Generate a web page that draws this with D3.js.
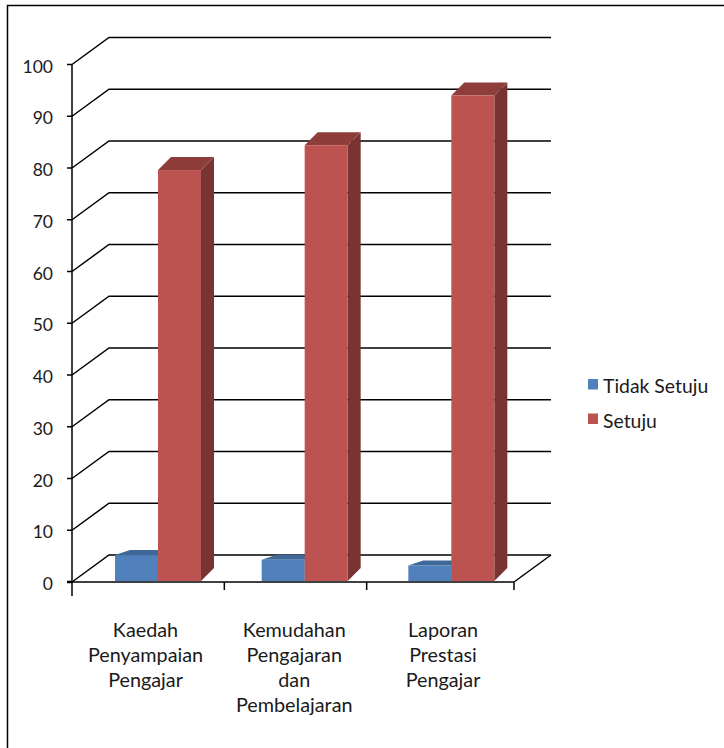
<!DOCTYPE html>
<html><head><meta charset="utf-8">
<script src="https://cdn.jsdelivr.net/npm/d3@7"></script>
<style>html,body{margin:0;padding:0;background:#fff}svg{display:block}text{font-family:Lato,"Open Sans",sans-serif;fill:#1a1a1a}</style>
</head><body><svg id="c" width="724" height="748"></svg>
<script>
const categories = [["Kaedah","Penyampaian","Pengajar"],["Kemudahan","Pengajaran","dan","Pembelajaran"],["Laporan","Prestasi","Pengajar"]];
const seriesNames = ["Tidak Setuju","Setuju"];
const tidakSetuju = [5.2,4.3,3.2];
const setuju = [79.6,84.4,94];
const yTicks = [0,10,20,30,40,50,60,70,80,90,100];
const colors = {front:["#5081bd","#bd5351"],top:["#3f6797","#8e3d3b"],side:["#3a5f8c","#783432"]};

const svg = d3.select("#c");
const y = d3.scaleLinear().domain([0,100]).range([582,64.5]);
const x = d3.scaleLinear().domain([0,3]).range([72,514]);
const xBar = d3.scaleLinear().domain([0,3]).range([115,555]);
const xLabel = d3.scaleLinear().domain([0,2]).range([145.5,443]);
const depth = {x:37,y:-27};
const g = svg.append("g");

// frame
g.append("path").attr("d","M7.5,748V5.5H724").attr("fill","none").attr("stroke","#000").attr("stroke-width",1.5);

// back grid + floor
yTicks.forEach(t=>{
  g.append("path").attr("fill","none").attr("stroke","#000").attr("stroke-width",1.5)
   .attr("d",`M${x(0)},${y(t)}L${x(0)+depth.x},${y(t)+depth.y}H${x(3)+depth.x}`);
  g.append("line").attr("x1",x(0)-5).attr("x2",x(0)).attr("y1",y(t)).attr("y2",y(t)).attr("stroke","#000").attr("stroke-width",t===0?2.5:1.5);
  g.append("text").attr("x",x(0)-19).attr("y",y(t)+8).attr("text-anchor","end").attr("font-size",17.5).text(t);
});
g.append("line").attr("x1",x(3)).attr("y1",y(0)).attr("x2",x(3)+depth.x).attr("y2",y(0)+depth.y).attr("stroke","#000").attr("stroke-width",1.5);
g.append("line").attr("x1",x(0)).attr("x2",x(3)).attr("y1",y(0)).attr("y2",y(0)).attr("stroke","#000").attr("stroke-width",1.5);
g.append("line").attr("x1",x(0)).attr("x2",x(0)).attr("y1",y(100)).attr("y2",y(0)+14).attr("stroke","#000").attr("stroke-width",1.5);
[1,2,3].forEach(i=>g.append("line").attr("x1",x(i)+(i===1?5:0)).attr("x2",x(i)+(i===1?5:0)).attr("y1",y(0)).attr("y2",y(0)+8).attr("stroke","#000").attr("stroke-width",1.5));

// bars
const barW = 43, barBase = 581;
const drawBar=(left,v,s,dx,dy)=>{
  const top=y(v), w=barW;
  g.append("path").attr("fill",colors.side[s]).attr("d",`M${left+w},${top}l${dx},${dy}V${barBase+dy}l${-dx},${-dy}Z`);
  g.append("path").attr("fill",colors.top[s]).attr("d",`M${left},${top}l${dx},${dy}h${w}l${-dx},${-dy}Z`);
  g.append("rect").attr("x",left).attr("y",top).attr("width",w).attr("height",barBase-top).attr("fill",colors.front[s]);
};
categories.forEach((c,i)=>{
  const l = xBar(i);
  drawBar(l,tidakSetuju[i],0,15,-5);
  drawBar(l+barW,setuju[i],1,13,-13);
  const t=g.append("text").attr("text-anchor","middle").attr("font-size",19.8);
  c.forEach((line,j)=>t.append("tspan").attr("x",xLabel(i)).attr("y",637+j*25).text(line));
});

// legend
seriesNames.forEach((n,i)=>{
  const ly=[384,418.5][i];
  g.append("rect").attr("x",588).attr("y",ly-5).attr("width",10).attr("height",10.5).attr("fill",colors.front[i]);
  g.append("text").attr("x",603).attr("y",ly+9).attr("font-size",19.4).text(n);
});
</script></body></html>
